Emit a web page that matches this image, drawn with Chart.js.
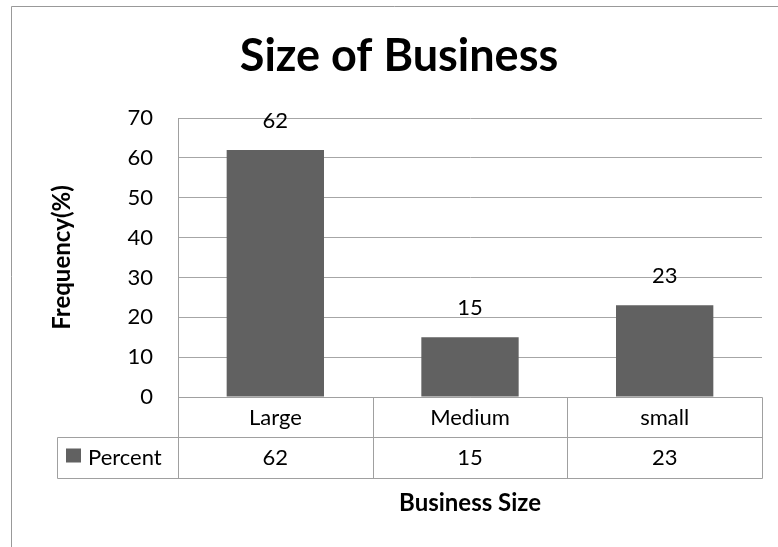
<!DOCTYPE html>
<html>
<head>
<meta charset="utf-8">
<title>Size of Business</title>
<script src="https://cdn.jsdelivr.net/npm/chart.js@4.4.0/dist/chart.umd.min.js"></script>
<style>
  html, body { margin: 0; padding: 0; background: #fff; }
  canvas { display: block; }
</style>
</head>
<body>
<canvas id="sizeChart" width="778" height="547"></canvas>
<script>
// chart data
const categories = ['Large', 'Medium', 'small'];
const percent = [62, 15, 23];
const seriesName = 'Percent';
const yMin = 0;
const yMax = 70;
const yStep = 10;

const FONT = 'Lato, "Noto Sans", sans-serif';
const barColor = '#616161';
const gridColor = '#a6a6a6';
const lineColor = '#a0a0a0';

// frame, value labels above bars and the data table under the plot
const tablePlugin = {
    id: 'dataTable',
    beforeDraw(chart) {
        const c = chart.ctx;
        c.save();
        c.strokeStyle = '#999999';
        c.lineWidth = 1;
        c.beginPath();
        c.moveTo(11.5, chart.height);
        c.lineTo(11.5, 6.5);
        c.lineTo(chart.width, 6.5);
        c.stroke();
        c.restore();
    },
    afterDatasetsDraw(chart) {
        const c = chart.ctx;
        const meta = chart.getDatasetMeta(0);
        c.save();
        c.font = '22px ' + FONT;
        c.fillStyle = '#000';
        c.textAlign = 'center';
        c.textBaseline = 'middle';
        meta.data.forEach((bar, i) => {
            c.fillText(String(percent[i]), bar.x, bar.y - 29);
        });
        c.restore();
    },
    afterDraw(chart) {
        const c = chart.ctx;
        const area = chart.chartArea;
        const xs = chart.scales.x;
        const top = Math.round(area.bottom) + 0.5;
        const mid = top + 40;
        const bot = top + 81;
        const keyLeft = 57.5;

        const bounds = [Math.round(area.left) + 0.5];
        for (let i = 0; i < categories.length - 1; i++) {
            const b = (xs.getPixelForValue(i) + xs.getPixelForValue(i + 1)) / 2;
            bounds.push(Math.round(b) + 0.5);
        }
        bounds.push(Math.round(area.right) + 0.5);

        c.save();
        c.strokeStyle = lineColor;
        c.lineWidth = 1;
        c.beginPath();
        c.moveTo(bounds[0], top); c.lineTo(bounds[bounds.length - 1], top);
        c.moveTo(keyLeft, mid); c.lineTo(bounds[bounds.length - 1], mid);
        c.moveTo(keyLeft, bot); c.lineTo(bounds[bounds.length - 1], bot);
        c.moveTo(keyLeft, mid); c.lineTo(keyLeft, bot);
        bounds.forEach(x => { c.moveTo(x, top); c.lineTo(x, bot); });
        c.stroke();

        c.fillStyle = '#000';
        c.font = '22px ' + FONT;
        c.textAlign = 'center';
        c.textBaseline = 'middle';
        categories.forEach((cat, i) => {
            const cx = xs.getPixelForValue(i);
            c.fillText(cat, cx, (top + mid) / 2);
            c.fillText(String(percent[i]), cx, (mid + bot) / 2);
        });

        // legend key
        c.fillStyle = barColor;
        c.fillRect(66, mid + 11, 15, 14);
        c.fillStyle = '#000';
        c.textAlign = 'left';
        c.fillText(seriesName, 88, (mid + bot) / 2);
        c.restore();
    }
};

const ctx = document.getElementById('sizeChart').getContext('2d');
new Chart(ctx, {
    type: 'bar',
    data: {
        labels: categories,
        datasets: [{
            label: seriesName,
            data: percent,
            backgroundColor: barColor,
            borderWidth: 0,
            barPercentage: 0.5,
            categoryPercentage: 1
        }]
    },
    options: {
        responsive: false,
        animation: false,
        // left padding nudges the title centre to the right like the original
        layout: { padding: { left: 36, right: 16, top: 0, bottom: 0 } },
        plugins: {
            legend: { display: false },
            tooltip: { enabled: false },
            title: {
                display: true,
                text: 'Size of Business',
                color: '#000',
                font: { family: FONT, size: 45, weight: 'bold' },
                padding: { top: 29, bottom: 35 }
            }
        },
        scales: {
            x: {
                afterFit: function(scale) { scale.height = 150; },
                ticks: { display: false },
                grid: { display: false },
                border: { display: false },
                title: {
                    display: true,
                    text: 'Business Size',
                    color: '#000',
                    font: { family: FONT, size: 24, weight: 'bold' },
                    padding: { top: 0, bottom: 29 }
                }
            },
            y: {
                min: yMin,
                max: yMax,
                afterFit: function(scale) { scale.width = 142; },
                ticks: {
                    stepSize: yStep,
                    padding: 25,
                    color: '#000',
                    font: { family: FONT, size: 22 }
                },
                grid: { color: gridColor, drawTicks: false },
                border: { display: true, color: lineColor },
                title: {
                    display: true,
                    text: 'Frequency(%)',
                    color: '#000',
                    font: { family: FONT, size: 24, weight: 'bold' },
                    padding: { top: 12, bottom: 0 }
                }
            }
        }
    },
    plugins: [tablePlugin]
});
</script>
</body>
</html>
